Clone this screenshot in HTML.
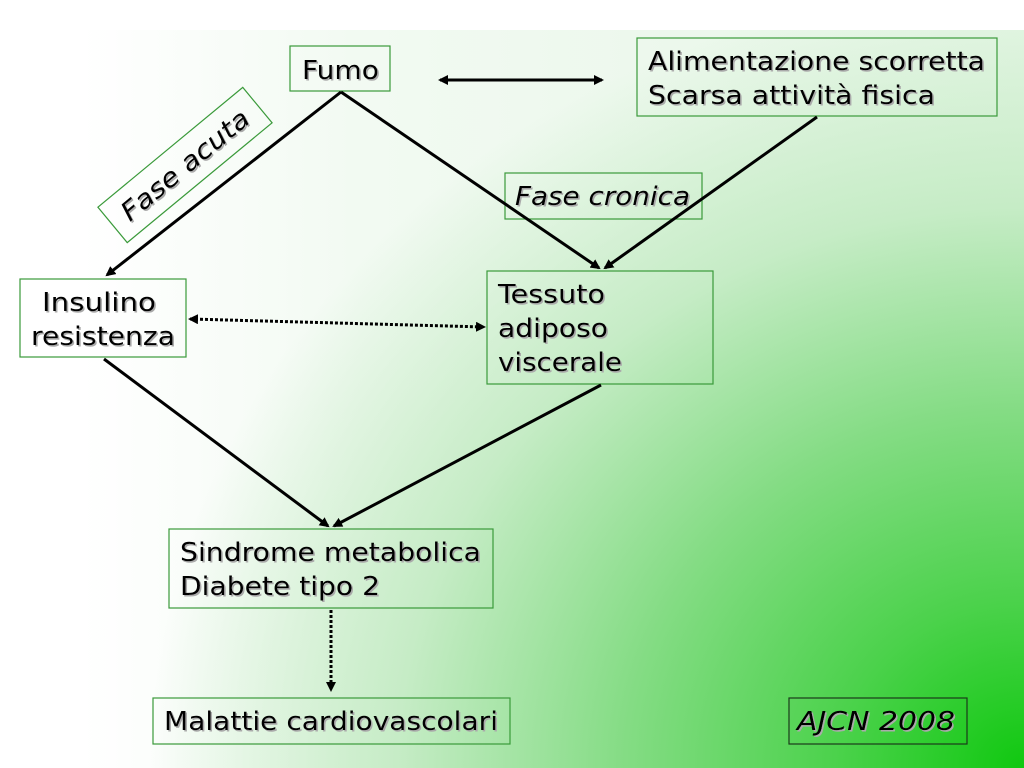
<!DOCTYPE html>
<html><head><meta charset="utf-8"><style>
html,body{margin:0;padding:0}
body{width:1024px;height:768px;overflow:hidden;position:relative;
background:
radial-gradient(ellipse 950px 850px at 1024px 768px, #10c810 0%, #4cd24c 20%, #84dc84 42%, #c6ecc6 66%, rgba(255,255,255,0) 92%),
linear-gradient(90deg,#ffffff 0%,#ffffff 8%,#f2faf2 35%,#e6f6e6 100%);}
.top{position:absolute;left:0;top:0;width:1024px;height:30px;background:#fff}
svg{position:absolute;left:0;top:0}
text{font-family:"DejaVu Sans","Liberation Sans",sans-serif;font-size:26px;fill:#000}
</style></head><body><div class="top"></div>
<svg width="1024" height="768" viewBox="0 0 1024 768">
<defs>
<marker id="a" markerWidth="10" markerHeight="10" refX="8" refY="5" orient="auto" markerUnits="userSpaceOnUse"><path d="M0,0 L10,5 L0,10 z" fill="#000"/></marker>
<marker id="s" markerWidth="10" markerHeight="10" refX="2" refY="5" orient="auto" markerUnits="userSpaceOnUse"><path d="M10,0 L0,5 L10,10 z" fill="#000"/></marker>
<filter id="f"><feDropShadow dx="1.5" dy="1.5" stdDeviation="0.3" flood-color="#aaa"/></filter>
</defs>
<g fill="none" stroke="#3a9a3a" stroke-width="1.2">
<rect x="290" y="46" width="100" height="45"/>
<rect x="637" y="38" width="360" height="78"/>
<rect x="20" y="279" width="166" height="78"/>
<rect x="487" y="271" width="226" height="113"/>
<rect x="169" y="529" width="324" height="79"/>
<rect x="153" y="698" width="357" height="46"/>
<rect x="505" y="173" width="197" height="46"/>
<rect x="-94" y="-23" width="188" height="46" transform="translate(185,165) rotate(-39.6)"/>
</g>
<rect x="789" y="698" width="178" height="46" fill="none" stroke="#1a3a1a" stroke-width="1.2"/>
<g stroke="#000" stroke-width="3" fill="none">
<line x1="341" y1="92" x2="107" y2="275" marker-end="url(#a)"/>
<line x1="341" y1="92" x2="599" y2="268" marker-end="url(#a)"/>
<line x1="817" y1="117" x2="605" y2="268" marker-end="url(#a)"/>
<line x1="440" y1="80" x2="602" y2="80" marker-start="url(#s)" marker-end="url(#a)"/>
<line x1="104" y1="359" x2="328" y2="526" marker-end="url(#a)"/>
<line x1="601" y1="385" x2="334" y2="526" marker-end="url(#a)"/>
<line x1="190" y1="319" x2="484" y2="327" stroke-dasharray="3,2" marker-start="url(#s)" marker-end="url(#a)"/>
<line x1="331" y1="610" x2="331" y2="690" stroke-dasharray="3,2" marker-end="url(#a)"/>
</g>
<g filter="url(#f)">
<text x="302" y="79" textLength="77" lengthAdjust="spacingAndGlyphs">Fumo</text>
<text x="648" y="70" textLength="337" lengthAdjust="spacingAndGlyphs">Alimentazione scorretta</text>
<text x="648" y="104" textLength="287" lengthAdjust="spacingAndGlyphs">Scarsa attività fisica</text>
<text x="42" y="311" textLength="114" lengthAdjust="spacingAndGlyphs">Insulino</text>
<text x="31" y="345" textLength="144" lengthAdjust="spacingAndGlyphs">resistenza</text>
<text x="498" y="303" textLength="107" lengthAdjust="spacingAndGlyphs">Tessuto</text>
<text x="498" y="337" textLength="110" lengthAdjust="spacingAndGlyphs">adiposo</text>
<text x="498" y="371" textLength="124" lengthAdjust="spacingAndGlyphs">viscerale</text>
<text x="180" y="561" textLength="301" lengthAdjust="spacingAndGlyphs">Sindrome metabolica</text>
<text x="180" y="595" textLength="200" lengthAdjust="spacingAndGlyphs">Diabete tipo 2</text>
<text x="164" y="730" textLength="334" lengthAdjust="spacingAndGlyphs">Malattie cardiovascolari</text>
<text x="515" y="205" font-style="italic" textLength="175" lengthAdjust="spacingAndGlyphs">Fase cronica</text>
<text x="797" y="730" font-style="italic" textLength="158" lengthAdjust="spacingAndGlyphs">AJCN 2008</text>
<text x="-79" y="9" font-style="italic" textLength="158" lengthAdjust="spacingAndGlyphs" transform="translate(185,165) rotate(-39.6)">Fase acuta</text>
</g>
</svg>
</body></html>
